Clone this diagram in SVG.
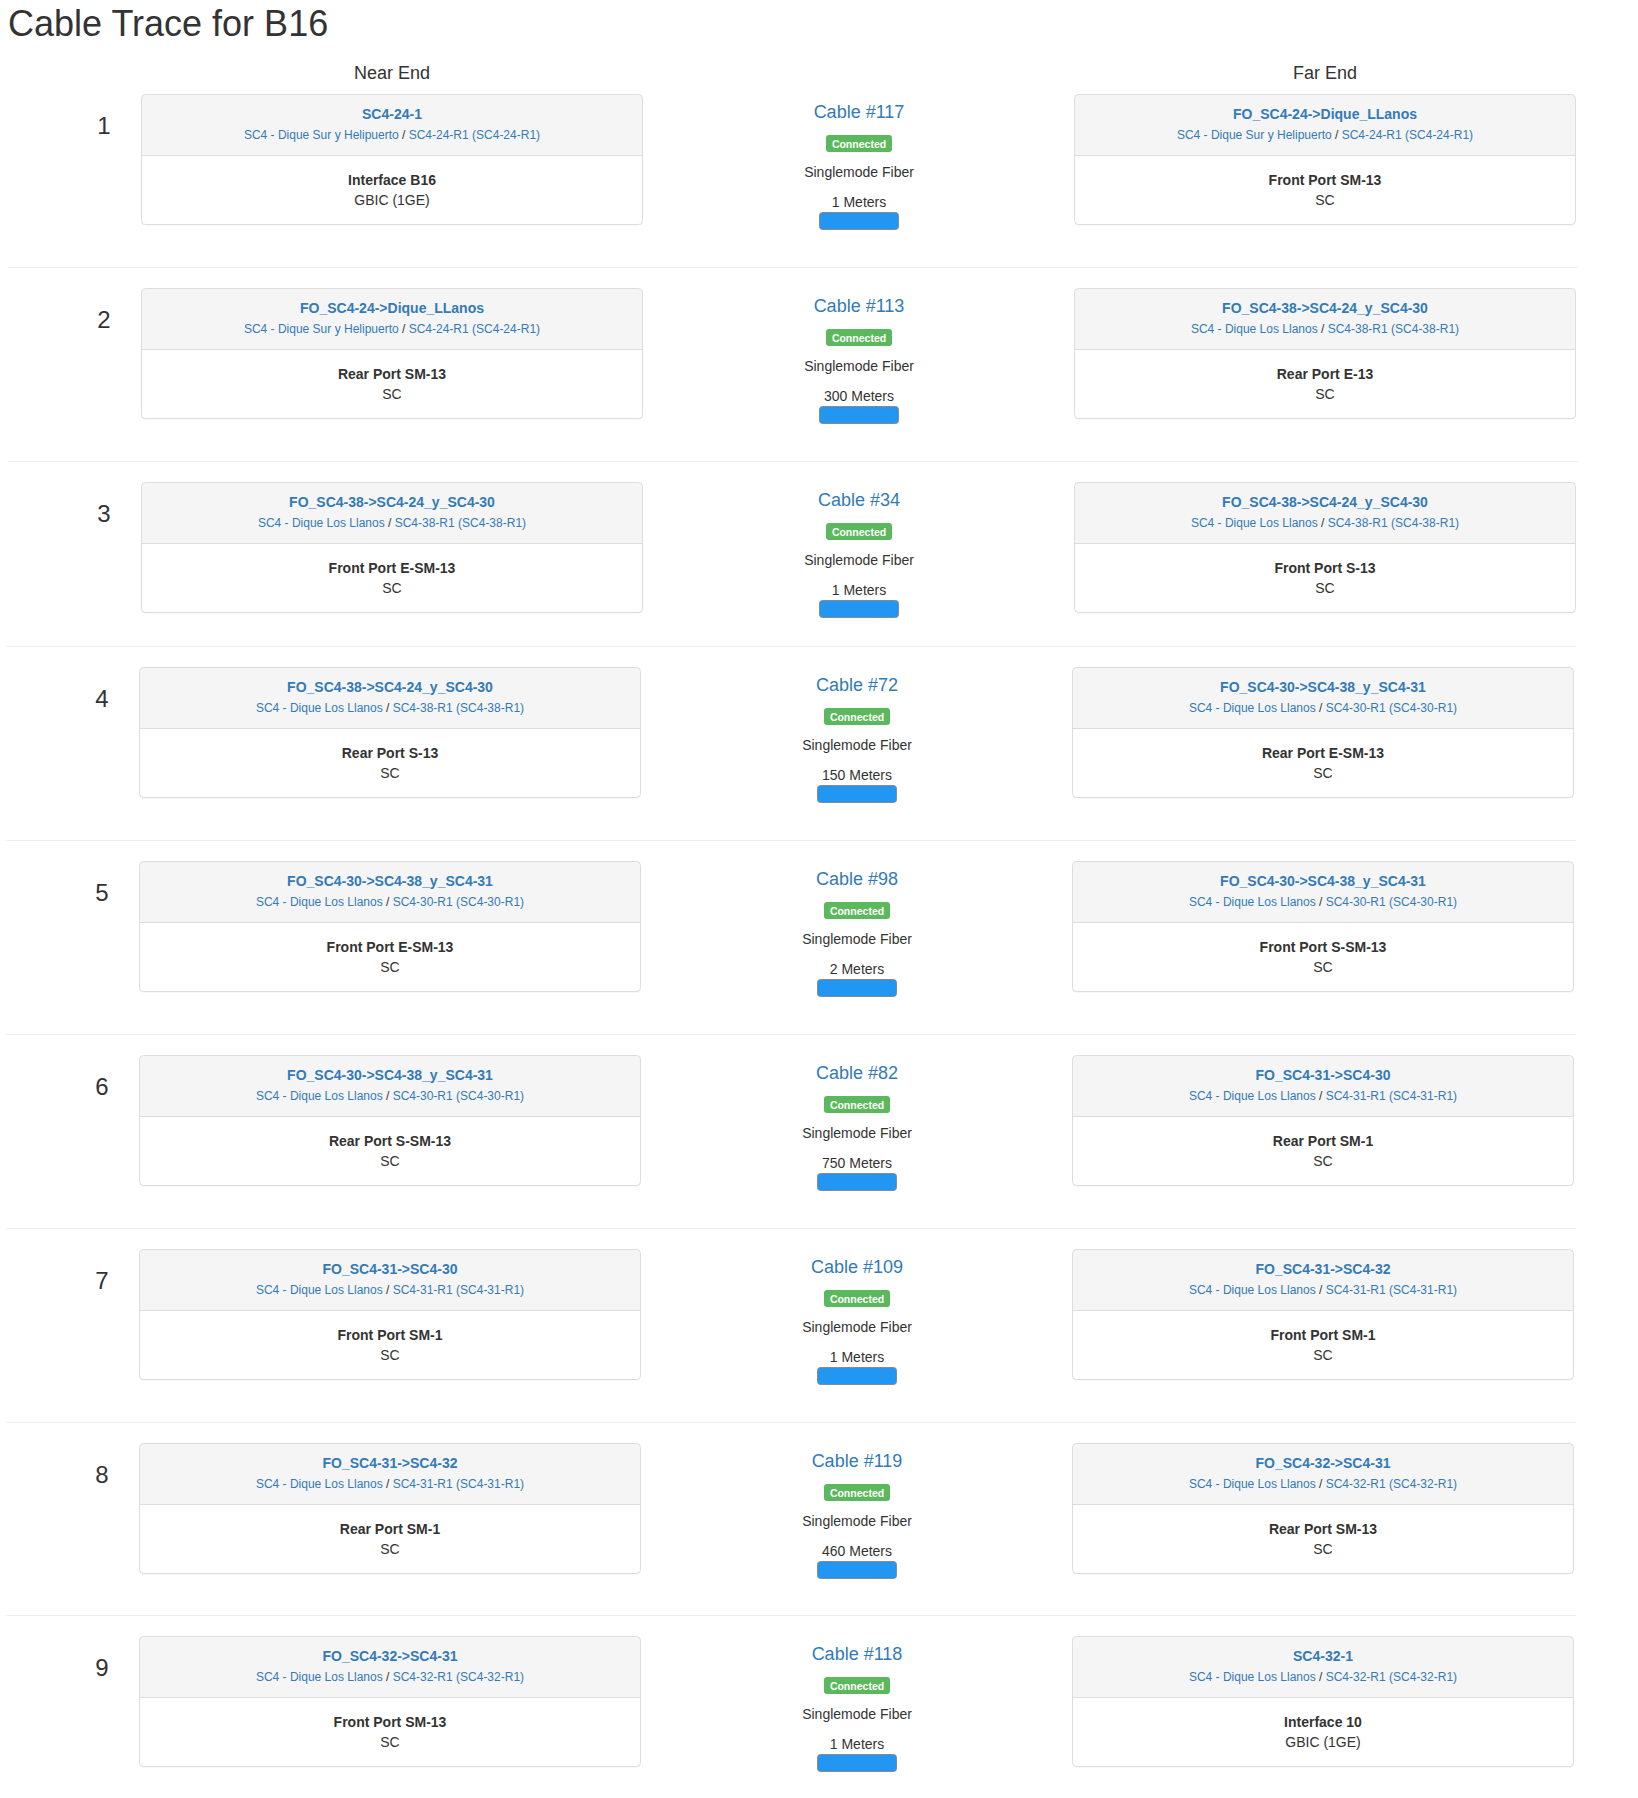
<svg xmlns="http://www.w3.org/2000/svg" xmlns:xlink="http://www.w3.org/1999/xlink" width="1638" height="1798" viewBox="0 0 1638 1798">
<style>
text{font-family:"Liberation Sans",Arial,Helvetica,sans-serif;fill:#333;}
.h1{font-size:36px;}
.hd{font-size:18px;text-anchor:middle;}
.num{font-size:24px;text-anchor:middle;}
.t{font-size:14px;font-weight:bold;fill:#337ab7;text-anchor:middle;}
.s{font-size:12px;fill:#337ab7;text-anchor:middle;}
.s .d{fill:#333;}
.b{font-size:14px;font-weight:bold;text-anchor:middle;}
.n{font-size:14px;text-anchor:middle;}
.c{font-size:18px;fill:#337ab7;text-anchor:middle;}
.lbl{font-size:10.5px;font-weight:bold;fill:#fff;text-anchor:middle;}
.sep{stroke:#eee;stroke-width:1;}
</style>
<defs>
<g id="panel">
<rect x="0.5" y="1.5" width="501" height="130" rx="4" fill="#000" opacity="0.06"/>
<rect x="0.5" y="0.5" width="501" height="130" rx="4" fill="#fff"/>
<path d="M0.5,61 V4.5 A4,4 0 0 1 4.5,0.5 H497.5 A4,4 0 0 1 501.5,4.5 V61 Z" fill="#f5f5f5"/>
<line x1="0.5" y1="61.5" x2="501.5" y2="61.5" stroke="#ddd"/>
<rect x="0.5" y="0.5" width="501" height="130" rx="4" fill="none" stroke="#ddd"/>
</g>
<rect id="badge" x="-33" y="41" width="66" height="17" rx="3" fill="#5cb85c"/>
<rect id="bar" x="-39.5" y="118.5" width="79" height="17" rx="3" fill="#2196f3" stroke="#8a8a8a"/>
</defs>
<rect width="1638" height="1798" fill="#fff"/>
<text class="h1" x="8" y="36">Cable Trace for B16</text>
<text class="hd" x="392" y="79">Near End</text>
<text class="hd" x="1325" y="79">Far End</text>

<g id="separators">
<line class="sep" x1="8" y1="267.5" x2="1578" y2="267.5"/>
<line class="sep" x1="8" y1="461.5" x2="1578" y2="461.5"/>
<line class="sep" x1="6" y1="646.5" x2="1576" y2="646.5"/>
<line class="sep" x1="6" y1="840.5" x2="1576" y2="840.5"/>
<line class="sep" x1="6" y1="1034.5" x2="1576" y2="1034.5"/>
<line class="sep" x1="6" y1="1228.5" x2="1576" y2="1228.5"/>
<line class="sep" x1="6" y1="1422.5" x2="1576" y2="1422.5"/>
<line class="sep" x1="6" y1="1615.5" x2="1576" y2="1615.5"/>
</g>

<!-- Row 1 -->
<g id="near-1" transform="translate(141,94)"><text class="num" x="-37" y="40">1</text><use xlink:href="#panel"/>
<text class="t" x="251" y="24.5">SC4-24-1</text>
<text class="s" x="251" y="44.5">SC4 - Dique Sur y Helipuerto <tspan class="d">/</tspan> SC4-24-R1 (SC4-24-R1)</text>
<text class="b" x="251" y="90.5">Interface B16</text><text class="n" x="251" y="110.5">GBIC (1GE)</text></g>
<g id="far-1" transform="translate(1074,94)"><use xlink:href="#panel"/>
<text class="t" x="251" y="24.5">FO_SC4-24-&gt;Dique_LLanos</text>
<text class="s" x="251" y="44.5">SC4 - Dique Sur y Helipuerto <tspan class="d">/</tspan> SC4-24-R1 (SC4-24-R1)</text>
<text class="b" x="251" y="90.5">Front Port SM-13</text><text class="n" x="251" y="110.5">SC</text></g>

<!-- Row 2 -->
<g id="near-2" transform="translate(141,288)"><text class="num" x="-37" y="40">2</text><use xlink:href="#panel"/>
<text class="t" x="251" y="24.5">FO_SC4-24-&gt;Dique_LLanos</text>
<text class="s" x="251" y="44.5">SC4 - Dique Sur y Helipuerto <tspan class="d">/</tspan> SC4-24-R1 (SC4-24-R1)</text>
<text class="b" x="251" y="90.5">Rear Port SM-13</text><text class="n" x="251" y="110.5">SC</text></g>
<g id="far-2" transform="translate(1074,288)"><use xlink:href="#panel"/>
<text class="t" x="251" y="24.5">FO_SC4-38-&gt;SC4-24_y_SC4-30</text>
<text class="s" x="251" y="44.5">SC4 - Dique Los Llanos <tspan class="d">/</tspan> SC4-38-R1 (SC4-38-R1)</text>
<text class="b" x="251" y="90.5">Rear Port E-13</text><text class="n" x="251" y="110.5">SC</text></g>

<!-- Row 3 -->
<g id="near-3" transform="translate(141,482)"><text class="num" x="-37" y="40">3</text><use xlink:href="#panel"/>
<text class="t" x="251" y="24.5">FO_SC4-38-&gt;SC4-24_y_SC4-30</text>
<text class="s" x="251" y="44.5">SC4 - Dique Los Llanos <tspan class="d">/</tspan> SC4-38-R1 (SC4-38-R1)</text>
<text class="b" x="251" y="90.5">Front Port E-SM-13</text><text class="n" x="251" y="110.5">SC</text></g>
<g id="far-3" transform="translate(1074,482)"><use xlink:href="#panel"/>
<text class="t" x="251" y="24.5">FO_SC4-38-&gt;SC4-24_y_SC4-30</text>
<text class="s" x="251" y="44.5">SC4 - Dique Los Llanos <tspan class="d">/</tspan> SC4-38-R1 (SC4-38-R1)</text>
<text class="b" x="251" y="90.5">Front Port S-13</text><text class="n" x="251" y="110.5">SC</text></g>

<!-- Row 4 -->
<g id="near-4" transform="translate(139,667)"><text class="num" x="-37" y="40">4</text><use xlink:href="#panel"/>
<text class="t" x="251" y="24.5">FO_SC4-38-&gt;SC4-24_y_SC4-30</text>
<text class="s" x="251" y="44.5">SC4 - Dique Los Llanos <tspan class="d">/</tspan> SC4-38-R1 (SC4-38-R1)</text>
<text class="b" x="251" y="90.5">Rear Port S-13</text><text class="n" x="251" y="110.5">SC</text></g>
<g id="far-4" transform="translate(1072,667)"><use xlink:href="#panel"/>
<text class="t" x="251" y="24.5">FO_SC4-30-&gt;SC4-38_y_SC4-31</text>
<text class="s" x="251" y="44.5">SC4 - Dique Los Llanos <tspan class="d">/</tspan> SC4-30-R1 (SC4-30-R1)</text>
<text class="b" x="251" y="90.5">Rear Port E-SM-13</text><text class="n" x="251" y="110.5">SC</text></g>

<!-- Row 5 -->
<g id="near-5" transform="translate(139,861)"><text class="num" x="-37" y="40">5</text><use xlink:href="#panel"/>
<text class="t" x="251" y="24.5">FO_SC4-30-&gt;SC4-38_y_SC4-31</text>
<text class="s" x="251" y="44.5">SC4 - Dique Los Llanos <tspan class="d">/</tspan> SC4-30-R1 (SC4-30-R1)</text>
<text class="b" x="251" y="90.5">Front Port E-SM-13</text><text class="n" x="251" y="110.5">SC</text></g>
<g id="far-5" transform="translate(1072,861)"><use xlink:href="#panel"/>
<text class="t" x="251" y="24.5">FO_SC4-30-&gt;SC4-38_y_SC4-31</text>
<text class="s" x="251" y="44.5">SC4 - Dique Los Llanos <tspan class="d">/</tspan> SC4-30-R1 (SC4-30-R1)</text>
<text class="b" x="251" y="90.5">Front Port S-SM-13</text><text class="n" x="251" y="110.5">SC</text></g>

<!-- Row 6 -->
<g id="near-6" transform="translate(139,1055)"><text class="num" x="-37" y="40">6</text><use xlink:href="#panel"/>
<text class="t" x="251" y="24.5">FO_SC4-30-&gt;SC4-38_y_SC4-31</text>
<text class="s" x="251" y="44.5">SC4 - Dique Los Llanos <tspan class="d">/</tspan> SC4-30-R1 (SC4-30-R1)</text>
<text class="b" x="251" y="90.5">Rear Port S-SM-13</text><text class="n" x="251" y="110.5">SC</text></g>
<g id="far-6" transform="translate(1072,1055)"><use xlink:href="#panel"/>
<text class="t" x="251" y="24.5">FO_SC4-31-&gt;SC4-30</text>
<text class="s" x="251" y="44.5">SC4 - Dique Los Llanos <tspan class="d">/</tspan> SC4-31-R1 (SC4-31-R1)</text>
<text class="b" x="251" y="90.5">Rear Port SM-1</text><text class="n" x="251" y="110.5">SC</text></g>

<!-- Row 7 -->
<g id="near-7" transform="translate(139,1249)"><text class="num" x="-37" y="40">7</text><use xlink:href="#panel"/>
<text class="t" x="251" y="24.5">FO_SC4-31-&gt;SC4-30</text>
<text class="s" x="251" y="44.5">SC4 - Dique Los Llanos <tspan class="d">/</tspan> SC4-31-R1 (SC4-31-R1)</text>
<text class="b" x="251" y="90.5">Front Port SM-1</text><text class="n" x="251" y="110.5">SC</text></g>
<g id="far-7" transform="translate(1072,1249)"><use xlink:href="#panel"/>
<text class="t" x="251" y="24.5">FO_SC4-31-&gt;SC4-32</text>
<text class="s" x="251" y="44.5">SC4 - Dique Los Llanos <tspan class="d">/</tspan> SC4-31-R1 (SC4-31-R1)</text>
<text class="b" x="251" y="90.5">Front Port SM-1</text><text class="n" x="251" y="110.5">SC</text></g>

<!-- Row 8 -->
<g id="near-8" transform="translate(139,1443)"><text class="num" x="-37" y="40">8</text><use xlink:href="#panel"/>
<text class="t" x="251" y="24.5">FO_SC4-31-&gt;SC4-32</text>
<text class="s" x="251" y="44.5">SC4 - Dique Los Llanos <tspan class="d">/</tspan> SC4-31-R1 (SC4-31-R1)</text>
<text class="b" x="251" y="90.5">Rear Port SM-1</text><text class="n" x="251" y="110.5">SC</text></g>
<g id="far-8" transform="translate(1072,1443)"><use xlink:href="#panel"/>
<text class="t" x="251" y="24.5">FO_SC4-32-&gt;SC4-31</text>
<text class="s" x="251" y="44.5">SC4 - Dique Los Llanos <tspan class="d">/</tspan> SC4-32-R1 (SC4-32-R1)</text>
<text class="b" x="251" y="90.5">Rear Port SM-13</text><text class="n" x="251" y="110.5">SC</text></g>

<!-- Row 9 -->
<g id="near-9" transform="translate(139,1636)"><text class="num" x="-37" y="40">9</text><use xlink:href="#panel"/>
<text class="t" x="251" y="24.5">FO_SC4-32-&gt;SC4-31</text>
<text class="s" x="251" y="44.5">SC4 - Dique Los Llanos <tspan class="d">/</tspan> SC4-32-R1 (SC4-32-R1)</text>
<text class="b" x="251" y="90.5">Front Port SM-13</text><text class="n" x="251" y="110.5">SC</text></g>
<g id="far-9" transform="translate(1072,1636)"><use xlink:href="#panel"/>
<text class="t" x="251" y="24.5">SC4-32-1</text>
<text class="s" x="251" y="44.5">SC4 - Dique Los Llanos <tspan class="d">/</tspan> SC4-32-R1 (SC4-32-R1)</text>
<text class="b" x="251" y="90.5">Interface 10</text><text class="n" x="251" y="110.5">GBIC (1GE)</text></g>

<g id="connectors">
<g id="cable-117" transform="translate(859,94)"><text class="c" x="0" y="24">Cable #117</text><use xlink:href="#badge"/><text class="lbl" x="0" y="53.5">Connected</text><text class="n" x="0" y="83">Singlemode Fiber</text><text class="n" x="0" y="113">1 Meters</text><use xlink:href="#bar"/></g>
<g id="cable-113" transform="translate(859,288)"><text class="c" x="0" y="24">Cable #113</text><use xlink:href="#badge"/><text class="lbl" x="0" y="53.5">Connected</text><text class="n" x="0" y="83">Singlemode Fiber</text><text class="n" x="0" y="113">300 Meters</text><use xlink:href="#bar"/></g>
<g id="cable-34" transform="translate(859,482)"><text class="c" x="0" y="24">Cable #34</text><use xlink:href="#badge"/><text class="lbl" x="0" y="53.5">Connected</text><text class="n" x="0" y="83">Singlemode Fiber</text><text class="n" x="0" y="113">1 Meters</text><use xlink:href="#bar"/></g>
<g id="cable-72" transform="translate(857,667)"><text class="c" x="0" y="24">Cable #72</text><use xlink:href="#badge"/><text class="lbl" x="0" y="53.5">Connected</text><text class="n" x="0" y="83">Singlemode Fiber</text><text class="n" x="0" y="113">150 Meters</text><use xlink:href="#bar"/></g>
<g id="cable-98" transform="translate(857,861)"><text class="c" x="0" y="24">Cable #98</text><use xlink:href="#badge"/><text class="lbl" x="0" y="53.5">Connected</text><text class="n" x="0" y="83">Singlemode Fiber</text><text class="n" x="0" y="113">2 Meters</text><use xlink:href="#bar"/></g>
<g id="cable-82" transform="translate(857,1055)"><text class="c" x="0" y="24">Cable #82</text><use xlink:href="#badge"/><text class="lbl" x="0" y="53.5">Connected</text><text class="n" x="0" y="83">Singlemode Fiber</text><text class="n" x="0" y="113">750 Meters</text><use xlink:href="#bar"/></g>
<g id="cable-109" transform="translate(857,1249)"><text class="c" x="0" y="24">Cable #109</text><use xlink:href="#badge"/><text class="lbl" x="0" y="53.5">Connected</text><text class="n" x="0" y="83">Singlemode Fiber</text><text class="n" x="0" y="113">1 Meters</text><use xlink:href="#bar"/></g>
<g id="cable-119" transform="translate(857,1443)"><text class="c" x="0" y="24">Cable #119</text><use xlink:href="#badge"/><text class="lbl" x="0" y="53.5">Connected</text><text class="n" x="0" y="83">Singlemode Fiber</text><text class="n" x="0" y="113">460 Meters</text><use xlink:href="#bar"/></g>
<g id="cable-118" transform="translate(857,1636)"><text class="c" x="0" y="24">Cable #118</text><use xlink:href="#badge"/><text class="lbl" x="0" y="53.5">Connected</text><text class="n" x="0" y="83">Singlemode Fiber</text><text class="n" x="0" y="113">1 Meters</text><use xlink:href="#bar"/></g>
</g>
</svg>
